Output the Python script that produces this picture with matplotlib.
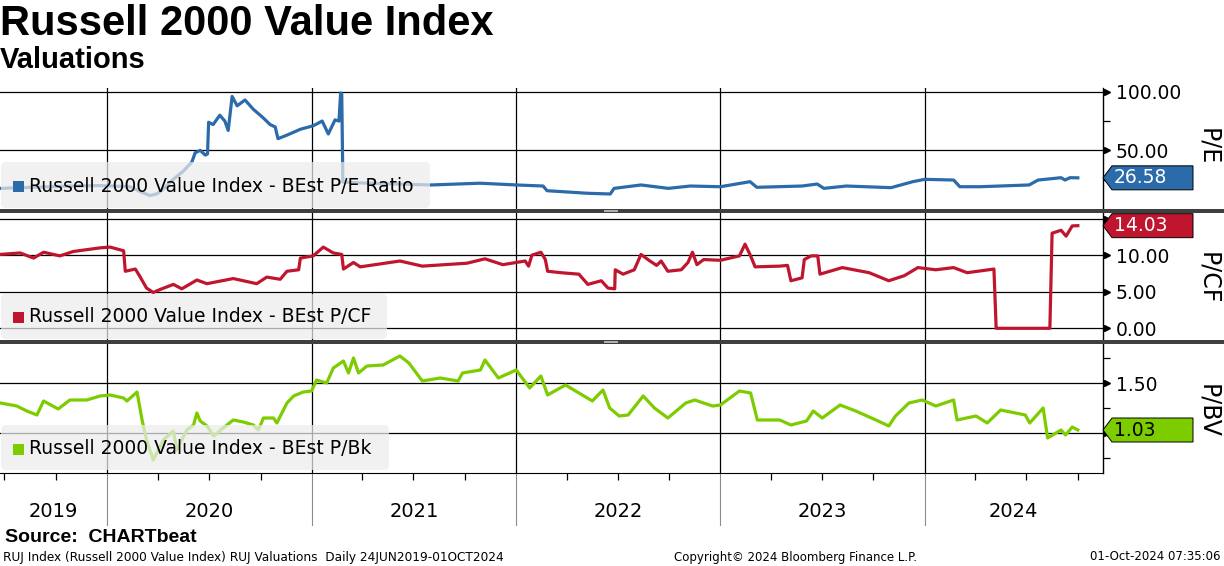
import numpy as np
import pandas as pd
import matplotlib
matplotlib.use("Agg")
import matplotlib.pyplot as plt
import matplotlib.dates as mdates
from matplotlib.patches import Rectangle, FancyBboxPatch, Polygon
from matplotlib.ticker import FixedLocator, FuncFormatter
from matplotlib.transforms import IdentityTransform, blended_transform_factory

# ---- data ----
pe_dates = ["2019-06-24", "2019-08-21", "2019-10-21", "2019-12-19", "2020-02-10", "2020-03-04",
            "2020-03-17", "2020-03-30", "2020-04-10", "2020-04-27", "2020-05-15", "2020-05-31",
            "2020-06-06", "2020-06-15", "2020-06-24", "2020-06-28", "2020-06-30", "2020-07-08",
            "2020-07-20", "2020-07-29", "2020-08-04", "2020-08-11", "2020-08-20", "2020-09-03",
            "2020-09-18", "2020-10-05", "2020-10-18", "2020-10-27", "2020-11-01", "2020-11-17",
            "2020-12-11", "2021-01-03", "2021-01-19", "2021-01-30", "2021-02-11", "2021-02-18",
            "2021-02-21", "2021-02-23", "2021-02-25", "2021-04-09", "2021-08-02", "2021-10-28",
            "2022-01-01", "2022-02-18", "2022-02-25", "2022-05-09", "2022-06-18", "2022-06-25",
            "2022-08-12", "2022-09-30", "2022-11-08", "2023-01-01", "2023-02-23", "2023-03-07",
            "2023-05-27", "2023-06-23", "2023-07-05", "2023-08-14", "2023-11-02", "2023-12-11",
            "2024-01-01", "2024-02-22", "2024-03-04", "2024-04-09", "2024-07-06", "2024-07-22",
            "2024-09-01", "2024-09-08", "2024-09-17", "2024-10-01"]
pe_vals = [17.6, 18.5, 19.5, 20.0, 19.0, 14.0, 11.5, 13.0, 17.0, 25.0, 32.0, 40.0,
           48.0, 50.0, 46.0, 47.0, 74.0, 72.0, 80.0, 75.0, 67.0, 96.0, 88.0, 93.0,
           85.0, 78.0, 72.0, 70.0, 60.0, 63.0, 68.0, 71.0, 75.0, 64.0, 76.0, 75.0,
           99.0, 98.0, 23.0, 22.0, 20.5, 22.0, 20.5, 19.6, 15.6, 13.4, 12.8, 17.6,
           20.5, 17.6, 19.6, 19.0, 23.3, 18.5, 19.6, 21.3, 17.6, 19.6, 18.2, 23.3,
           25.3, 24.7, 19.0, 19.0, 20.5, 24.7, 26.7, 24.7, 26.7, 26.58]

pcf_dates = ["2019-06-24", "2019-07-29", "2019-08-22", "2019-09-09", "2019-10-08", "2019-11-01",
             "2019-12-19", "2020-01-06", "2020-01-30", "2020-02-02", "2020-02-20", "2020-02-28",
             "2020-03-11", "2020-03-23", "2020-04-04", "2020-04-28", "2020-05-13", "2020-06-09",
             "2020-06-27", "2020-08-13", "2020-09-24", "2020-10-12", "2020-11-05", "2020-11-17",
             "2020-12-08", "2020-12-11", "2021-01-03", "2021-01-21", "2021-02-08", "2021-02-23",
             "2021-02-26", "2021-03-16", "2021-03-28", "2021-06-07", "2021-07-17", "2021-08-26",
             "2021-10-05", "2021-11-06", "2021-12-08", "2022-01-17", "2022-01-23", "2022-01-29",
             "2022-02-14", "2022-02-22", "2022-02-26", "2022-03-22", "2022-04-23", "2022-05-09",
             "2022-06-02", "2022-06-14", "2022-06-26", "2022-06-27", "2022-07-11", "2022-07-31",
             "2022-08-12", "2022-08-28", "2022-09-09", "2022-09-17", "2022-09-29", "2022-10-23",
             "2022-11-04", "2022-11-12", "2022-11-20", "2022-12-02", "2023-01-01", "2023-02-04",
             "2023-02-14", "2023-02-24", "2023-03-04", "2023-04-17", "2023-05-01", "2023-05-07",
             "2023-05-27", "2023-05-31", "2023-06-12", "2023-06-24", "2023-06-28", "2023-08-07",
             "2023-09-24", "2023-10-29", "2023-11-26", "2023-12-20", "2024-01-21", "2024-02-22",
             "2024-03-17", "2024-05-04", "2024-05-08", "2024-08-12", "2024-08-16", "2024-09-01",
             "2024-09-10", "2024-09-21", "2024-10-01"]
pcf_vals = [10.1, 10.3, 9.6, 10.4, 9.9, 10.5, 11.0, 11.1, 10.6, 7.8, 8.1, 7.1,
            5.5, 4.9, 5.3, 6.0, 5.4, 6.6, 6.1, 6.8, 6.1, 7.0, 6.7, 7.8,
            8.0, 9.6, 9.9, 11.1, 10.3, 10.1, 8.1, 9.0, 8.4, 9.2, 8.5, 8.7,
            8.9, 9.5, 8.7, 9.2, 8.5, 10.0, 10.4, 9.4, 7.8, 7.6, 7.4, 6.0,
            6.5, 5.5, 5.4, 8.0, 7.4, 8.0, 10.1, 9.2, 8.6, 9.2, 7.8, 8.0,
            9.0, 10.4, 8.7, 9.4, 9.3, 9.9, 11.5, 9.9, 8.4, 8.5, 8.6, 6.5,
            6.9, 9.4, 9.9, 9.9, 7.4, 8.3, 7.6, 6.5, 7.2, 8.3, 8.0, 8.3,
            7.6, 8.1, 0.0, 0.0, 13.0, 13.4, 12.6, 14.0, 14.03]

pbv_dates = ["2019-06-24", "2019-07-23", "2019-08-10", "2019-08-28", "2019-09-09", "2019-10-05",
             "2019-10-26", "2019-11-25", "2019-12-19", "2020-01-06", "2020-01-30", "2020-02-05",
             "2020-02-23", "2020-03-03", "2020-03-11", "2020-03-23", "2020-04-10", "2020-04-28",
             "2020-05-04", "2020-05-22", "2020-06-03", "2020-06-09", "2020-06-15", "2020-06-27",
             "2020-07-09", "2020-07-26", "2020-08-13", "2020-08-31", "2020-09-18", "2020-09-27",
             "2020-10-06", "2020-10-24", "2020-10-30", "2020-11-17", "2020-11-29", "2020-12-16",
             "2020-12-31", "2021-01-09", "2021-01-27", "2021-02-08", "2021-02-26", "2021-03-07",
             "2021-03-16", "2021-03-25", "2021-04-09", "2021-05-08", "2021-06-07", "2021-06-23",
             "2021-07-17", "2021-08-18", "2021-09-19", "2021-09-27", "2021-10-29", "2021-11-06",
             "2021-11-30", "2022-01-01", "2022-01-25", "2022-02-14", "2022-02-26", "2022-03-30",
             "2022-04-23", "2022-05-17", "2022-06-05", "2022-06-17", "2022-07-04", "2022-07-20",
             "2022-08-16", "2022-09-05", "2022-09-29", "2022-10-31", "2022-11-16", "2022-12-18",
             "2023-01-01", "2023-02-04", "2023-02-24", "2023-03-08", "2023-04-17", "2023-05-07",
             "2023-06-04", "2023-06-16", "2023-07-02", "2023-08-03", "2023-08-31", "2023-10-10",
             "2023-10-29", "2023-11-10", "2023-12-04", "2023-12-28", "2024-01-21", "2024-02-22",
             "2024-02-28", "2024-04-02", "2024-04-22", "2024-05-16", "2024-06-29", "2024-07-07",
             "2024-07-31", "2024-08-08", "2024-09-01", "2024-09-09", "2024-09-21", "2024-10-01"]
pbv_vals = [1.30, 1.27, 1.22, 1.18, 1.32, 1.24, 1.33, 1.33, 1.37, 1.38, 1.35, 1.32,
            1.41, 1.13, 0.93, 0.73, 0.93, 1.02, 0.83, 1.03, 1.08, 1.20, 1.12, 1.07,
            0.97, 1.05, 1.13, 1.11, 1.08, 1.03, 1.15, 1.15, 1.10, 1.30, 1.37, 1.41,
            1.42, 1.53, 1.50, 1.65, 1.72, 1.60, 1.75, 1.60, 1.67, 1.68, 1.77, 1.70,
            1.52, 1.55, 1.52, 1.60, 1.63, 1.73, 1.55, 1.63, 1.45, 1.57, 1.38, 1.48,
            1.40, 1.32, 1.43, 1.25, 1.17, 1.18, 1.37, 1.25, 1.15, 1.30, 1.33, 1.27,
            1.28, 1.42, 1.40, 1.13, 1.13, 1.08, 1.12, 1.22, 1.15, 1.28, 1.22, 1.12,
            1.07, 1.17, 1.30, 1.33, 1.27, 1.33, 1.13, 1.17, 1.10, 1.23, 1.18, 1.10,
            1.25, 0.95, 1.03, 0.98, 1.06, 1.03]

years = [2019, 2020, 2021, 2022, 2023, 2024]

series_names = ["Russell 2000 Value Index - BEst P/E Ratio",
                "Russell 2000 Value Index - BEst P/CF",
                "Russell 2000 Value Index - BEst P/Bk"]
axis_names = ["P/E", "P/CF", "P/BV"]
last_labels = ["26.58", "14.03", "1.03"]

BLUE = "#2b6baa"
RED = "#c0152f"
GREEN = "#7dcc00"

W, H = 1224, 566
fig = plt.figure(figsize=(W / 100, H / 100), dpi=100)
plt.rcParams['font.family'] = ['DejaVu Sans']

def fy(y):
    return 1 - y / H

x0 = pd.Timestamp("2019-06-23")
x1 = pd.Timestamp("2024-11-15")
right = 1103

# panels: (top px, bottom px)
panels = [(88, 209), (212, 340), (344, 473)]
axes = []
for top, bot in panels:
    ax = fig.add_axes([0, fy(bot), right / W, (bot - top) / H])
    axes.append(ax)
ax1, ax2, ax3 = axes

ax1.plot(pd.to_datetime(pe_dates), pe_vals, color=BLUE, lw=2.3, zorder=3)
ax2.plot(pd.to_datetime(pcf_dates), pcf_vals, color=RED, lw=2.3, zorder=3)
ax3.plot(pd.to_datetime(pbv_dates), pbv_vals, color=GREEN, lw=2.3, zorder=3)

ax1.set_ylim(0, 103.2)
ax2.set_ylim(-1.6, 15.9)
ax3.set_ylim(0.6, 1.89)

major = [[50, 100], [0, 5, 10, 15], [1.0, 1.5]]
minor = [[25, 75], [], [0.75, 1.25, 1.75]]
hidden = [[], [15], [1.0]]

for i, ax in enumerate(axes):
    ax.set_xlim(x0, x1)
    ax.xaxis.set_major_locator(mdates.YearLocator())
    ax.xaxis.set_minor_locator(mdates.MonthLocator(bymonth=[4, 7, 10]))
    ax.grid(axis='x', which='major', color='black', lw=0.9)
    ax.grid(axis='y', which='major', color='black', lw=0.9)
    ax.yaxis.tick_right()
    ax.yaxis.set_major_locator(FixedLocator(major[i]))
    ax.yaxis.set_minor_locator(FixedLocator(minor[i]))
    hid = hidden[i]
    ax.yaxis.set_major_formatter(FuncFormatter(lambda v, p, hid=hid: "" if v in hid else "%.2f" % v))
    ax.tick_params(axis='y', which='major', length=4, width=0.9, pad=5, labelsize=13.5)
    ax.tick_params(axis='y', which='minor', length=5, width=0.9)
    ax.tick_params(axis='x', which='both', labelbottom=False, length=0)
    for s in ['left', 'top', 'bottom']:
        ax.spines[s].set_visible(False)
    ax.spines['right'].set_color('black')
    ax.spines['right'].set_linewidth(1.0)
    ax.set_facecolor('white')
    # little arrowheads on the major ticks
    tr = blended_transform_factory(ax.transAxes, ax.transData)
    ax.plot([1.004] * len(major[i]), major[i], ls='none', marker='>', ms=4.5,
            color='black', transform=tr, clip_on=False)

ax3.spines['bottom'].set_visible(True)
ax3.spines['bottom'].set_color('black')
ax3.tick_params(axis='x', which='minor', length=5, width=0.9, direction='out', color='black')

# year labels and separators under the bottom panel
trx = blended_transform_factory(ax3.transData, ax3.transAxes)
for yr in years:
    ys = max(pd.Timestamp(f"{yr}-01-01"), x0)
    ye = min(pd.Timestamp(f"{yr + 1}-01-01"), x1)
    mid = ys + (ye - ys) / 2
    ax3.text(mid, -0.295, str(yr), transform=trx, ha='center', va='center',
             fontsize=14, color='black')
    if yr > years[0]:
        ax3.plot([ys, ys], [0, -0.40], color='#8c8c8c', lw=0.8, transform=trx, clip_on=False)

ID = IdentityTransform()

# separators between the panels
for yt, yb in [(209, 213), (340, 344)]:
    fig.add_artist(Rectangle((0, H - yb), W, yb - yt, facecolor='#3f3f3f',
                             edgecolor='none', transform=ID, zorder=5))
    for dy in (1.3, 2.7):
        fig.add_artist(Rectangle((604, H - yt - dy - 0.5), 14, 0.8, facecolor='#b0b0b0',
                                 edgecolor='none', transform=ID, zorder=6))

# legends
legend_boxes = [(162, 208, 430, 186), (294, 339, 387, 317), (425, 470, 389, 449)]
colors = [BLUE, RED, GREEN]
for (yt, yb, xr, yc), name, c in zip(legend_boxes, series_names, colors):
    fig.add_artist(FancyBboxPatch((1, H - yb), xr - 1, yb - yt,
                                  boxstyle="round,pad=0,rounding_size=5",
                                  facecolor='#ececec', edgecolor='none', alpha=0.72,
                                  transform=ID, zorder=4))
    fig.add_artist(Rectangle((13, H - yc - 5.5), 11, 11, facecolor=c, edgecolor='none',
                             transform=ID, zorder=6))
    fig.text(29 / W, fy(yc), name, fontsize=13.5, va='center', ha='left', color='black', zorder=7)

# last value tags on the right axis
txt_colors = ['white', 'white', 'black']
last_vals = [pe_vals[-1], pcf_vals[-1], pbv_vals[-1]]
for ax, val, lab, c, tc in zip(axes, last_vals, last_labels, colors, txt_colors):
    yd = ax.transData.transform((0, val))[1]
    hh = 12
    verts = [(right, yd), (right + 9, yd + hh), (1193, yd + hh), (1193, yd - hh), (right + 9, yd - hh)]
    fig.add_artist(Polygon(verts, closed=True, facecolor=c, edgecolor='black', lw=0.7,
                           transform=ID, zorder=6))
    fig.text(1114 / W, yd / H, lab, fontsize=13.5, color=tc, va='center', ha='left', zorder=7)

# axis names on the far right
for name, yc in zip(axis_names, [147, 278, 411]):
    fig.text(1208 / W, fy(yc), name, rotation=270, fontsize=17, ha='center', va='center')

# titles and footer
fig.text(0, fy(24), "Russell 2000 Value Index", fontsize=30, fontweight='bold',
         family='Liberation Sans', ha='left', va='center')
fig.text(0, fy(60), "Valuations", fontsize=21, fontweight='bold',
         family='Liberation Sans', ha='left', va='center')
fig.text(5 / W, fy(537), "Source:  CHARTbeat", fontsize=14, fontweight='bold',
         family='Liberation Sans', ha='left', va='center')
fig.text(3 / W, fy(557), "RUJ Index (Russell 2000 Value Index) RUJ Valuations  Daily 24JUN2019-01OCT2024",
         fontsize=8.7, ha='left', va='center')
fig.text(796 / W, fy(557), "Copyright\u00a9 2024 Bloomberg Finance L.P.", fontsize=8.5,
         ha='center', va='center')
fig.text(1220 / W, fy(557), "01-Oct-2024 07:35:06", fontsize=8.5, ha='right', va='center')

fig.savefig("out.png", dpi=100, facecolor='white')
